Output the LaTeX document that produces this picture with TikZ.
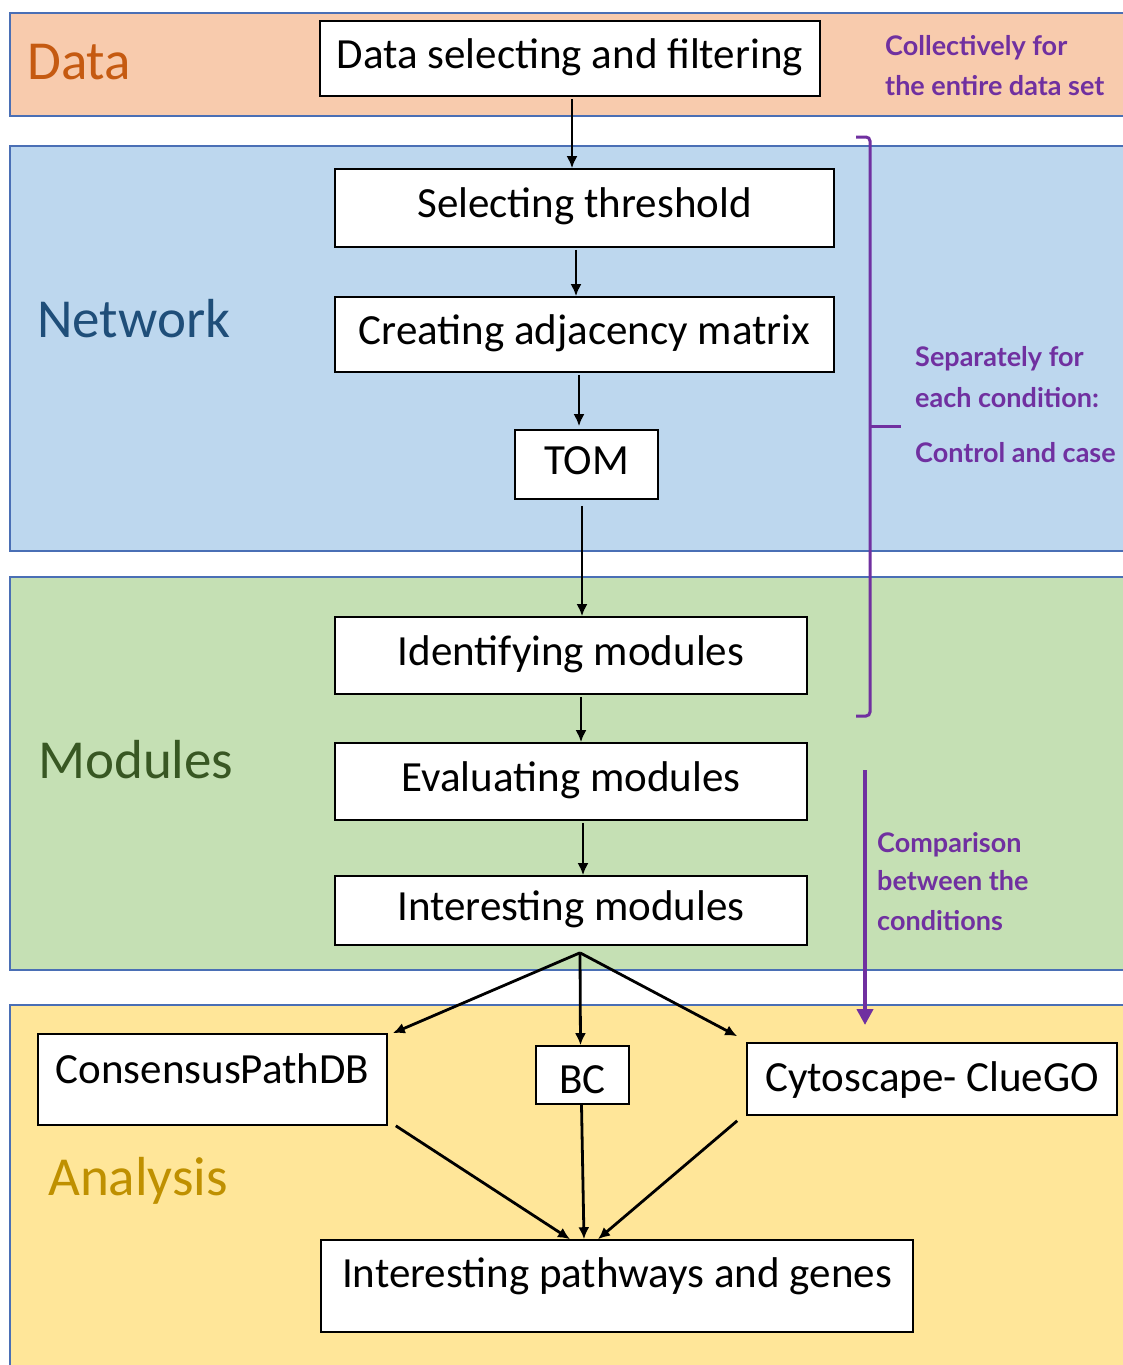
\documentclass[tikz,border=0pt]{standalone}
\usepackage{fontspec}
\setmainfont{Carlito}
\newfontfamily\annotfont{Lato}
\usetikzlibrary{arrows.meta,calc}

\definecolor{datafill}{HTML}{F8CBAD}
\definecolor{netfill}{HTML}{BDD7EE}
\definecolor{modfill}{HTML}{C5E0B4}
\definecolor{anafill}{HTML}{FFE699}
\definecolor{bandline}{HTML}{4A6FB5}
\definecolor{notepurple}{HTML}{7030A0}
\definecolor{datatext}{HTML}{C55A11}
\definecolor{nettext}{HTML}{1F4E79}
\definecolor{modtext}{HTML}{385723}
\definecolor{anatext}{HTML}{BF9000}

\begin{document}
\begin{tikzpicture}[x=1pt,y=-1pt,
  band/.style={draw=bandline,line width=1.5pt},
  stepbox/.style={draw=black,line width=1.6pt,fill=white,inner sep=0pt,
    font=\fontsize{43}{50}\selectfont,text height=27pt,text depth=8pt},
  flow/.style={line width=2.8pt,-{Latex[length=12pt,width=11pt]}},
  section/.style={anchor=base west,inner sep=0pt,font=\fontsize{55}{60}\selectfont},
  note/.style={anchor=base west,inner sep=0pt,text=notepurple,
    font=\annotfont\bfseries\fontsize{27}{30}\selectfont},
  bracket/.style={draw=notepurple,line width=3pt,rounded corners=4pt}]

\useasboundingbox (0,0) rectangle (1123,1365);
\fill[white] (0,0) rectangle (1123,1365);

% coloured bands
\draw[band,fill=datafill] (10,13) rectangle (1140,116);
\draw[band,fill=netfill] (10,146) rectangle (1140,551);
\draw[band,fill=modfill] (10,577) rectangle (1140,970);
\draw[band,fill=anafill] (10,1005) rectangle (1140,1390);

% band titles
\node[section,text=datatext] (tdata) at (27,79) {Data};
\node[section,text=nettext] (tnet) at (37,337) {Network};
\node[section,text=modtext] (tmod) at (38,778) {Modules};
\node[section,text=anatext] (tana) at (48,1195) {Analysis};

% workflow steps
\node[stepbox,minimum width=500pt,minimum height=75pt] (select) at (570,58.5) {Data selecting and filtering};
\node[stepbox,minimum width=499pt,minimum height=78pt] (thresh) at (584.5,208) {Selecting threshold};
\node[stepbox,minimum width=499pt,minimum height=75pt] (adj) at (584.5,334.5) {Creating adjacency matrix};
\node[stepbox,minimum width=143pt,minimum height=69pt] (tom) at (586.5,464.5) {TOM};
\node[stepbox,minimum width=472pt,minimum height=77pt] (ident) at (571,655.5) {Identifying modules};
\node[stepbox,minimum width=472pt,minimum height=77pt] (eval) at (571,781.5) {Evaluating modules};
\node[stepbox,minimum width=472pt,minimum height=69pt] (intmod) at (571,910.5) {Interesting modules};
\node[stepbox,minimum width=349pt,minimum height=91pt,text depth=20pt] (cpdb) at (212.5,1079.5) {ConsensusPathDB};
\node[stepbox,minimum width=93pt,minimum height=58pt,text height=45pt,text depth=9pt] (bc) at (582.5,1075) {BC};
\node[stepbox,minimum width=370pt,minimum height=72pt,text depth=2pt] (clue) at (932,1079) {Cytoscape- ClueGO};
\node[stepbox,minimum width=592pt,minimum height=92pt,text depth=24pt] (paths) at (617,1286) {Interesting pathways and genes};

% connectors
\draw[flow] ([xshift=2pt,yshift=-2pt]select.south) -- ([xshift=2pt]select.south |- thresh.north);
\draw[flow] ([xshift=-8.5pt,yshift=-2pt]thresh.south) -- ([xshift=-8.5pt]thresh.south |- adj.north);
\draw[flow] ([xshift=-5.5pt,yshift=-2pt]adj.south) -- ([xshift=-5.5pt,yshift=3pt]adj.south |- tom.north);
\draw[flow] ([xshift=-4.5pt,yshift=-6pt]tom.south) -- ([xshift=-4.5pt]tom.south |- ident.north);
\draw[flow] ([xshift=10pt,yshift=-2pt]ident.south) -- ([xshift=10pt]ident.south |- eval.north);
\draw[flow] ([xshift=12pt,yshift=-2pt]eval.south) -- ([xshift=12pt]eval.south |- intmod.north);

\coordinate (fork) at ([xshift=9pt,yshift=-7pt]intmod.south);
\draw[flow] (fork) -- ([xshift=5pt]cpdb.north east);
\draw[flow] (fork) -- ([xshift=-2pt]bc.north);
\draw[flow] (fork) -- ([xshift=-9pt,yshift=6pt]clue.north west);

\draw[flow] ([xshift=8pt]cpdb.south east) -- ([xshift=-47pt]paths.north);
\draw[flow] ([xshift=-1pt]bc.south) -- ([xshift=-33pt]paths.north);
\draw[flow] ([xshift=-9pt,yshift=-5pt]clue.south west) -- ([xshift=-19pt]paths.north);

% scope bracket and comparison arrow
\draw[bracket] (856,137) -- (870,137) -- (870,716) -- (856,716);
\draw[bracket] (870,426) -- (901,426);
\draw[notepurple,line width=4pt,-{Triangle[length=16pt,width=16pt]}] (865,770) -- (865,1025);

% annotations
\node[note] (n1a) at (885,55) {Collectively for};
\node[note] (n1b) at (885,95) {the entire data set};
\node[note] (n2a) at (915,366) {Separately for};
\node[note] (n2b) at (915,407) {each condition:};
\node[note] (n2c) at (915,462) {Control and case};
\node[note] (n3a) at (877,852) {Comparison};
\node[note] (n3b) at (877,890) {between the};
\node[note] (n3c) at (877,930) {conditions};
\end{tikzpicture}
\end{document}
